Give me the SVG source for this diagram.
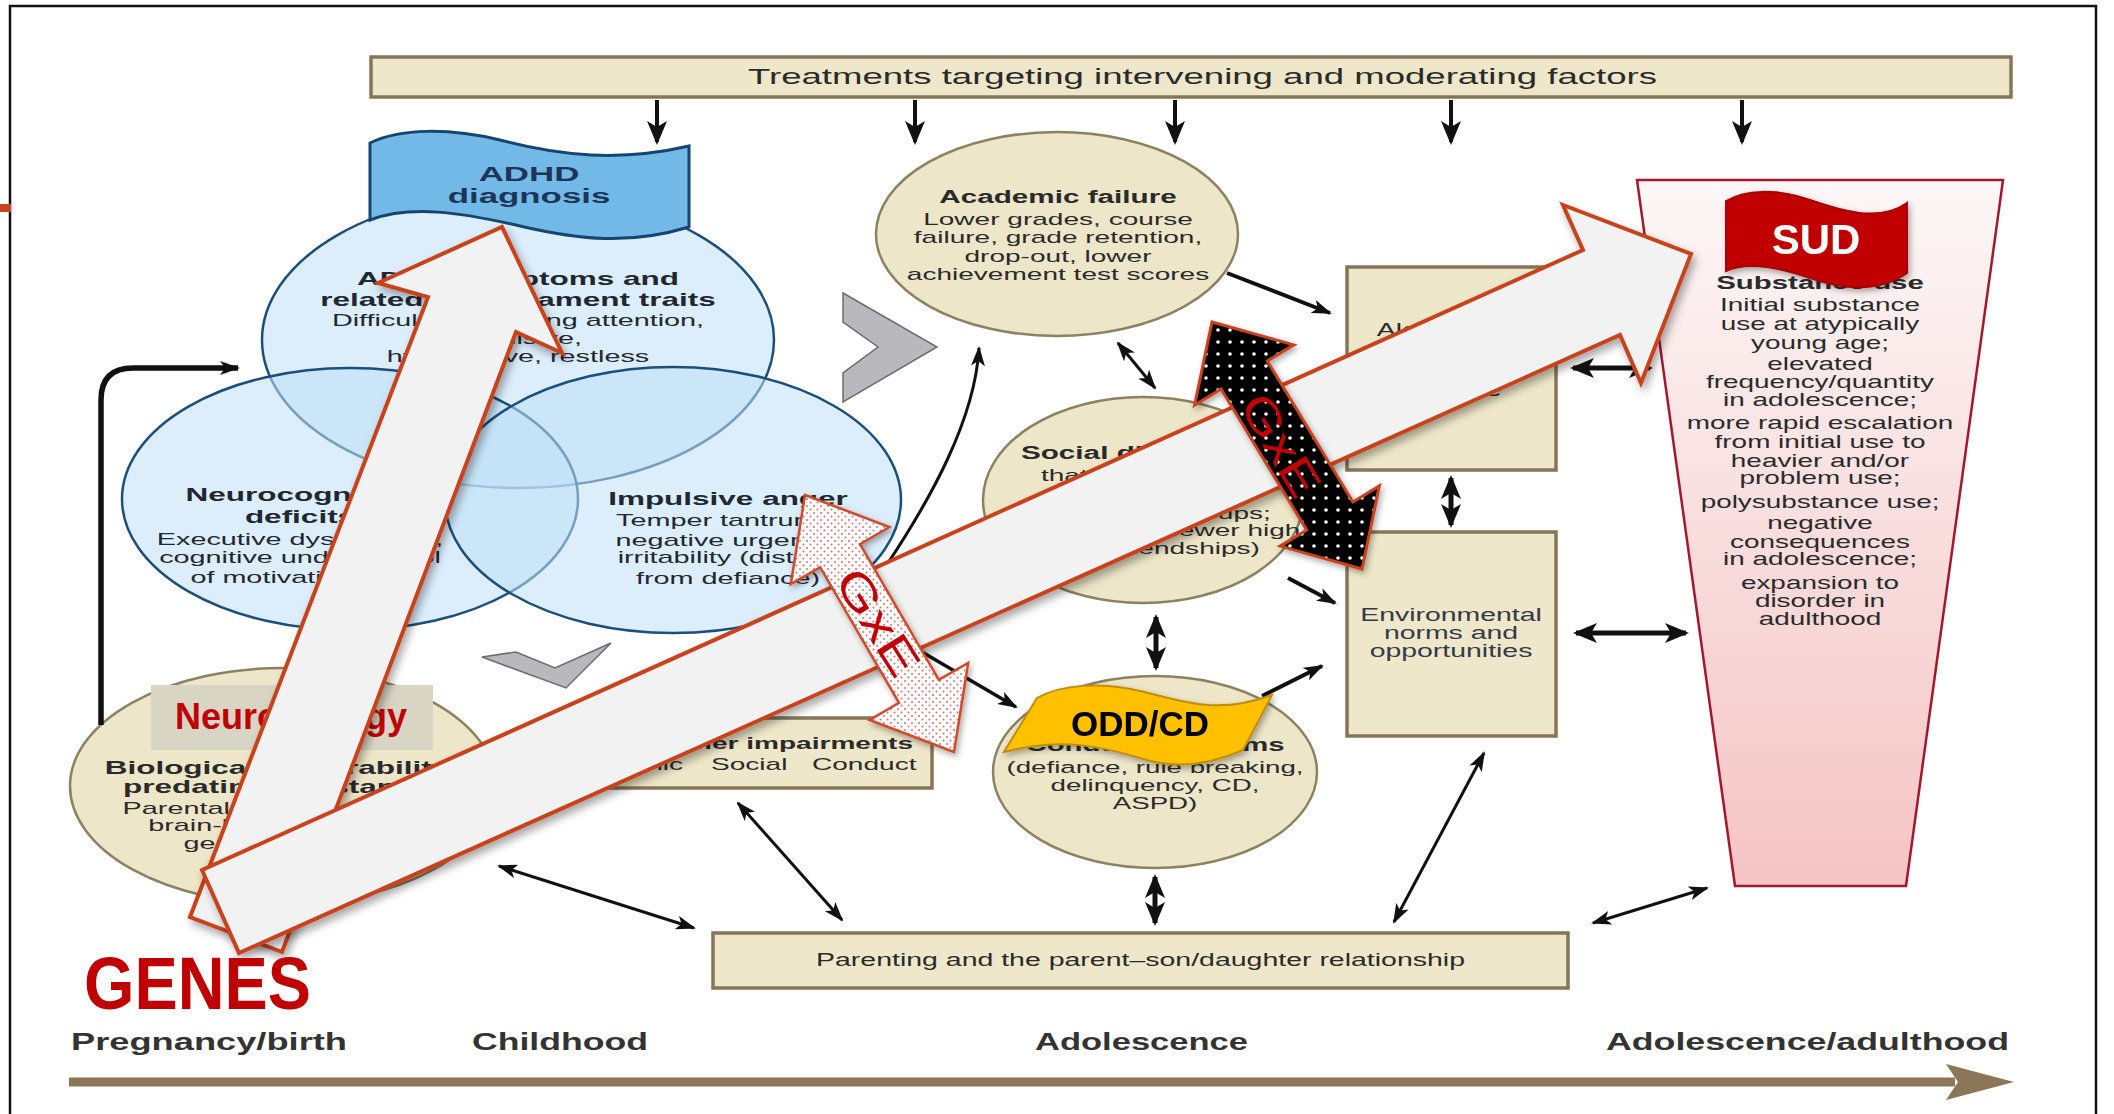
<svg xmlns="http://www.w3.org/2000/svg" width="2114" height="1114" viewBox="0 0 2114 1114">
  <style>
    text { font-family: "Liberation Sans", Arial, sans-serif; fill: #2a2a2a; }
    .b { font-weight: bold; }
    .m { text-anchor: middle; }
    .box { fill: #eee7c9; stroke: #85765a; stroke-width: 3.5; }
    .oval { fill: #ede6c9; stroke: #8c8262; stroke-width: 2.5; }
    .venn { fill: #bfe0f7; fill-opacity: 0.55; stroke: #1c4e7c; stroke-width: 2.5; }
    .chev { fill: #b9b9bd; stroke: #6c6c70; stroke-width: 1.5; }
    .ln { fill: none; stroke: #111; stroke-width: 3; marker-end: url(#hd); }
    .ln2 { fill: none; stroke: #111; stroke-width: 3; marker-end: url(#hd); marker-start: url(#hd); }
    .lnb { fill: none; stroke: #111; stroke-width: 5; marker-end: url(#hdb); marker-start: url(#hdb); }
    .down { fill: none; stroke: #111; stroke-width: 4; marker-end: url(#hdb); }
    .big { fill: #f2f2f2; stroke: #c8431f; stroke-width: 4; stroke-linejoin: miter; filter: url(#sh); }
    .venntx { fill: #1f2733; }
    .gxe { fill: #c00000; font-size: 46px; }
    .lbl { font-weight: bold; font-size: 23px; fill: #333; }
  </style>
  <defs>
    <marker id="hd" viewBox="0 0 20 14" refX="18" refY="7" markerWidth="20" markerHeight="14" markerUnits="userSpaceOnUse" orient="auto-start-reverse">
      <path d="M0,0 L20,7 L0,14 L5,7 Z" fill="#111"/>
    </marker>
    <marker id="hdb" viewBox="0 0 24 20" refX="21" refY="10" markerWidth="24" markerHeight="20" markerUnits="userSpaceOnUse" orient="auto-start-reverse">
      <path d="M0,0 L24,10 L0,20 L6,10 Z" fill="#111"/>
    </marker>
    <pattern id="pinkDots" width="7" height="7" patternUnits="userSpaceOnUse">
      <rect width="7" height="7" fill="#fff"/>
      <circle cx="2" cy="2" r="1" fill="#e07070"/>
      <circle cx="5.5" cy="5.5" r="1" fill="#e07070"/>
    </pattern>
    <pattern id="blackDots" width="12" height="12" patternUnits="userSpaceOnUse">
      <rect width="12" height="12" fill="#000"/>
      <circle cx="6" cy="6" r="1.8" fill="#fff"/>
    </pattern>
    <linearGradient id="pinkFade" x1="0" y1="0" x2="0" y2="1">
      <stop offset="0" stop-color="#fdf7f7"/>
      <stop offset="1" stop-color="#f5c4c4"/>
    </linearGradient>
    <filter id="sh" x="-10%" y="-10%" width="125%" height="125%">
      <feDropShadow dx="3" dy="5" stdDeviation="4" flood-color="#000" flood-opacity="0.35"/>
    </filter>
    <filter id="shs" x="-15%" y="-15%" width="135%" height="140%">
      <feDropShadow dx="2" dy="3" stdDeviation="3" flood-color="#000" flood-opacity="0.35"/>
    </filter>
  </defs>

  <rect width="2114" height="1114" fill="#fff"/>
  <!-- slide frame -->
  <rect x="10" y="6" width="2086" height="1120" fill="none" stroke="#111" stroke-width="2.5"/>
  <rect x="0" y="204" width="11" height="8" fill="#c8431f"/>

  <!-- top bar -->
  <g id="treatments">
    <rect class="box" x="371" y="57" width="1640" height="40"/>
    <text x="748" y="84" font-size="22" textLength="909" lengthAdjust="spacingAndGlyphs">Treatments targeting intervening and moderating factors</text>
  </g>

  <!-- three overlapping ADHD trait circles -->
  <g id="adhd-venn">
    <ellipse class="venn" cx="518" cy="340" rx="256" ry="148"/>
    <ellipse class="venn" cx="350" cy="499" rx="228" ry="131"/>
    <ellipse class="venn" cx="673" cy="500" rx="228" ry="133"/>
    <g transform="translate(518,0) scale(1.8,1)">
      <text class="b m venntx" x="0" y="285" font-size="17.5">ADHD symptoms and</text>
      <text class="b m venntx" x="0" y="306" font-size="17.5">related temperament traits</text>
      <text class="m venntx" x="0" y="326" font-size="16">Difficulty sustaining attention,</text>
      <text class="m venntx" x="0" y="344" font-size="16">impulsive,</text>
      <text class="m venntx" x="0" y="362" font-size="16">hyperactive, restless</text>
    </g>
    <g transform="translate(300,0) scale(1.8,1)">
      <text class="b m venntx" x="0" y="501" font-size="17.5">Neurocognitive</text>
      <text class="b m venntx" x="0" y="523" font-size="17.5">deficits</text>
      <text class="m venntx" x="0" y="545" font-size="16">Executive dysfunction,</text>
      <text class="m venntx" x="0" y="563" font-size="16">cognitive undercontrol</text>
      <text class="m venntx" x="0" y="583" font-size="16">of motivation and</text>
    </g>
    <g transform="translate(728,0) scale(1.8,1)">
      <text class="b m venntx" x="0" y="505" font-size="17.5">Impulsive anger</text>
      <text class="m venntx" x="0" y="526" font-size="16">Temper tantrums,</text>
      <text class="m venntx" x="0" y="546" font-size="16">negative urgency,</text>
      <text class="m venntx" x="0" y="563" font-size="16">irritability (distinct</text>
      <text class="m venntx" x="0" y="584" font-size="16">from defiance)</text>
    </g>
  </g>

  <g id="adhd-diagnosis">
    <path d="M370,143 C400,128 450,128 500,140 C560,156 620,162 689,146 L689,227 C630,245 580,240 520,226 C460,212 410,205 370,220 Z" fill="#72b9e8" stroke="#16456f" stroke-width="3"/>
    <g transform="translate(529,0) scale(1.66,1)">
      <text class="b m" x="0" y="181" font-size="21" fill="#1d3557" style="fill:#1d3557">ADHD</text>
      <text class="b m" x="0" y="203" font-size="21" style="fill:#1d3557">diagnosis</text>
    </g>
  </g>

  <g id="chevrons">
    <polygon class="chev" points="843,293 937,347 843,402 843,373 878,347 843,322"/>
    <polygon class="chev" points="482,657 516,652 555,668 611,643 566,688"/>
  </g>

  <g id="academic-failure">
    <ellipse class="oval" cx="1057" cy="234" rx="181" ry="102"/>
    <g transform="translate(1058,0) scale(1.65,1)">
      <text class="b m" x="0" y="203" font-size="18">Academic failure</text>
      <text class="m" x="0" y="225" font-size="17">Lower grades, course</text>
      <text class="m" x="0" y="243" font-size="17">failure, grade retention,</text>
      <text class="m" x="0" y="262" font-size="17">drop-out, lower</text>
      <text class="m" x="0" y="280" font-size="17">achievement test scores</text>
    </g>
  </g>

  <g id="social">
    <ellipse class="oval" cx="1143" cy="500" rx="160" ry="103"/>
    <g transform="translate(1143,0) scale(1.65,1)">
      <text class="b m" x="0" y="459" font-size="18">Social difficulties</text>
      <text class="m" x="0" y="481" font-size="17">that may include</text>
      <text class="m" x="0" y="500" font-size="17">(affiliation with</text>
      <text class="m" x="0" y="519" font-size="17">deviant peer groups;</text>
      <text class="m" x="0" y="536" font-size="17">peer rejection; fewer high</text>
      <text class="m" x="0" y="554" font-size="17">quality friendships)</text>
    </g>
  </g>

  <g id="conduct">
    <ellipse class="oval" cx="1155" cy="772" rx="162" ry="96"/>
    <g transform="translate(1155,0) scale(1.63,1)">
      <text class="b m" x="0" y="751" font-size="18">Conduct problems</text>
      <text class="m" x="0" y="773" font-size="17">(defiance, rule breaking,</text>
      <text class="m" x="0" y="791" font-size="17">delinquency, CD,</text>
      <text class="m" x="0" y="809" font-size="17">ASPD)</text>
    </g>
  </g>

  <g id="biological">
    <ellipse class="oval" cx="283" cy="786" rx="213" ry="118"/>
    <g transform="translate(277,0) scale(1.8,1)">
      <text class="b m" x="0" y="774" font-size="17.5">Biological vulnerability</text>
      <text class="b m" x="0" y="793" font-size="17.5">predating substance</text>
      <text class="m" x="0" y="814" font-size="16">Parental substance use,</text>
      <text class="m" x="0" y="831" font-size="16">brain-based deficits,</text>
      <text class="m" x="0" y="849" font-size="16">genetic factors</text>
    </g>
  </g>

  <g id="impairments">
    <rect class="box" x="560" y="718" width="372" height="70"/>
    <g transform="translate(913,0) scale(1.65,1)"><text class="b" x="0" y="749" font-size="17" text-anchor="end">Other impairments</text></g>
    <g transform="translate(683,0) scale(1.65,1)"><text x="0" y="770" font-size="17" text-anchor="end">Academic</text></g>
    <g transform="translate(711,0) scale(1.65,1)"><text x="0" y="770" font-size="17">Social</text></g>
    <g transform="translate(812,0) scale(1.65,1)"><text x="0" y="770" font-size="17">Conduct</text></g>
  </g>

  <g id="substance-attitudes">
    <rect class="box" x="1347" y="267" width="209" height="203"/>
    <g transform="translate(1451,0) scale(1.58,1)">
      <text class="m" x="0" y="336" font-size="18">Alcohol and</text>
      <text class="m" x="0" y="356" font-size="18">other drug</text>
      <text class="m" x="0" y="376" font-size="18">availability</text>
      <text class="m" x="0" y="396" font-size="18">and use</text>
    </g>
  </g>

  <g id="environment">
    <rect class="box" x="1347" y="532" width="209" height="204"/>
    <g transform="translate(1451,0) scale(1.58,1)">
      <text class="m" x="0" y="621" font-size="18" style="fill:#333a48">Environmental</text>
      <text class="m" x="0" y="639" font-size="18" style="fill:#333a48">norms and</text>
      <text class="m" x="0" y="657" font-size="18" style="fill:#333a48">opportunities</text>
    </g>
  </g>

  <g id="parenting">
    <rect class="box" x="713" y="933" width="855" height="55"/>
    <text x="816" y="966" font-size="17.5" textLength="649" lengthAdjust="spacingAndGlyphs">Parenting and the parent–son/daughter relationship</text>
  </g>

  <g id="substance-use">
    <polygon points="1637,180 2003,180 1906,886 1735,886" fill="url(#pinkFade)" stroke="#a3182e" stroke-width="2.5"/>
    <g transform="translate(1820,0) scale(1.55,1)">
      <text class="b m" x="0" y="289" font-size="19">Substance use</text>
      <text class="m" x="0" y="311" font-size="18">Initial substance</text>
      <text class="m" x="0" y="330" font-size="18">use at atypically</text>
      <text class="m" x="0" y="349" font-size="18">young age;</text>
      <text class="m" x="0" y="370" font-size="18">elevated</text>
      <text class="m" x="0" y="388" font-size="18">frequency/quantity</text>
      <text class="m" x="0" y="406" font-size="18">in adolescence;</text>
      <text class="m" x="0" y="429" font-size="18">more rapid escalation</text>
      <text class="m" x="0" y="448" font-size="18">from initial use to</text>
      <text class="m" x="0" y="467" font-size="18">heavier and/or</text>
      <text class="m" x="0" y="484" font-size="18">problem use;</text>
      <text class="m" x="0" y="508" font-size="18">polysubstance use;</text>
      <text class="m" x="0" y="529" font-size="18">negative</text>
      <text class="m" x="0" y="548" font-size="18">consequences</text>
      <text class="m" x="0" y="565" font-size="18">in adolescence;</text>
      <text class="m" x="0" y="589" font-size="18">expansion to</text>
      <text class="m" x="0" y="607" font-size="18">disorder in</text>
      <text class="m" x="0" y="625" font-size="18">adulthood</text>
    </g>
  </g>

  <!-- connectors -->
  <g id="connectors">
    <line class="down" x1="657" y1="100" x2="657" y2="142"/>
    <line class="down" x1="915" y1="100" x2="915" y2="142"/>
    <line class="down" x1="1175" y1="100" x2="1175" y2="142"/>
    <line class="down" x1="1451" y1="100" x2="1451" y2="142"/>
    <line class="down" x1="1742" y1="100" x2="1742" y2="142"/>
    <path class="ln" d="M101,725 L101,400 Q101,368 133,368 L238,368" style="stroke-width:5.5"/>
    <path class="ln" d="M886,566 C930,500 975,420 979,348"/>
    <line class="ln" x1="1227" y1="273" x2="1330" y2="313" style="stroke-width:4"/>
    <line class="ln" x1="1288" y1="578" x2="1335" y2="603" style="stroke-width:4"/>
    <line class="ln" x1="1262" y1="696" x2="1322" y2="666" style="stroke-width:4"/>
    <line class="ln" x1="922" y1="652" x2="1016" y2="707" style="stroke-width:3.5"/>
    <line class="ln2" x1="1118" y1="343" x2="1155" y2="388"/>
    <line class="lnb" x1="1156" y1="617" x2="1156" y2="668"/>
    <line class="lnb" x1="1155" y1="877" x2="1155" y2="923"/>
    <line class="lnb" x1="1451" y1="478" x2="1451" y2="525"/>
    <line class="lnb" x1="1573" y1="368" x2="1650" y2="368"/>
    <line class="lnb" x1="1576" y1="633" x2="1686" y2="633"/>
    <line class="ln2" x1="1394" y1="922" x2="1484" y2="753"/>
    <line class="ln2" x1="1593" y1="923" x2="1707" y2="888"/>
    <line class="ln2" x1="499" y1="866" x2="694" y2="928"/>
    <line class="ln2" x1="738" y1="803" x2="842" y2="920"/>
  </g>

  <g id="sud-flag" filter="url(#shs)">
    <path d="M1726,201 C1745,190 1775,188 1810,200 C1845,212 1880,222 1907,203 L1907,273 C1880,292 1845,290 1810,278 C1775,266 1745,262 1726,271 Z" fill="#c00000" stroke="#a80000" stroke-width="2"/>
    <text class="b m" x="1816" y="254" font-size="42" style="fill:#fff">SUD</text>
  </g>

  <g id="odd-flag" filter="url(#shs)">
    <path d="M1037,698 C1062,684 1100,682 1140,691 C1180,700 1215,716 1272,695 L1243,750 C1205,767 1170,768 1140,758 C1100,746 1060,737 1004,752 Z" fill="#ffc000" stroke="#c08e0a" stroke-width="2"/>
    <text class="b m" x="1140" y="736" font-size="35" style="fill:#000">ODD/CD</text>
  </g>

  <g id="neurobiology">
    <rect x="151" y="685" width="282" height="65" fill="#d9d5c5"/>
    <text class="b" x="175" y="729" font-size="36" style="fill:#c00000">Neurobiology</text>
  </g>

  <!-- developmental timeline -->
  <g id="timeline">
    <line x1="69" y1="1082" x2="1955" y2="1082" stroke="#8b7757" stroke-width="9"/>
    <polygon points="1946,1064 2014,1082 1946,1100 1958,1082" fill="#8b7757"/>
    <text class="lbl" x="71" y="1050" textLength="276" lengthAdjust="spacingAndGlyphs">Pregnancy/birth</text>
    <text class="lbl" x="472" y="1050" textLength="176" lengthAdjust="spacingAndGlyphs">Childhood</text>
    <text class="lbl" x="1035" y="1050" textLength="213" lengthAdjust="spacingAndGlyphs">Adolescence</text>
    <text class="lbl" x="1606" y="1050" textLength="403" lengthAdjust="spacingAndGlyphs">Adolescence/adulthood</text>
  </g>

  <!-- overlay block arrows -->
  <g id="genes-to-adhd">
    <polygon class="big" points="190,917 428,297 378,283 502,227 562,353 516,332 282,952"/>
  </g>
  <g id="genes-to-sud">
    <polygon class="big" points="202,870 1583,250 1563,205 1691,254 1641,383 1620,335 239,953"/>
  </g>
  <g id="gxe-anger">
    <polygon points="805,495 889.4,527 860,544.1 938.8,679.9 968.2,662.8 954,752 869.6,720 899,702.9 820.2,567.1 790.8,584.2" fill="url(#pinkDots)" stroke="#d14b2b" stroke-width="2.5" filter="url(#shs)"/>
    <text class="gxe m" transform="translate(878,622) rotate(58)" x="0" y="16" textLength="118" lengthAdjust="spacingAndGlyphs">GxE</text>
  </g>
  <g id="gxe-social">
    <polygon points="1212,322 1293.8,344.9 1267.3,361 1352.9,502 1379.4,485.9 1362,569 1280.2,546.1 1306.7,530 1221.1,389 1194.6,405.1" fill="url(#blackDots)" stroke="#c8431f" stroke-width="3" filter="url(#shs)"/>
    <text class="gxe m" transform="translate(1281,445) rotate(59)" x="0" y="16" textLength="112" lengthAdjust="spacingAndGlyphs">GxE</text>
  </g>

  <text id="genes" class="b" x="84" y="1009" font-size="75" textLength="227" lengthAdjust="spacingAndGlyphs" style="fill:#c00000">GENES</text>
</svg>
